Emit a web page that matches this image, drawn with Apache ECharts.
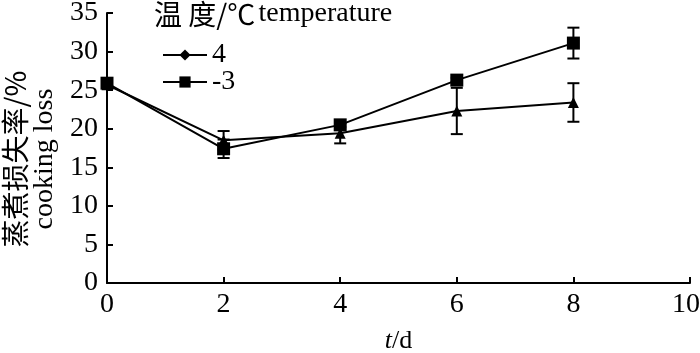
<!DOCTYPE html>
<html>
<head>
<meta charset="utf-8">
<script src="https://cdn.jsdelivr.net/npm/echarts@6/dist/echarts.min.js"></script>
<style>
  html, body { margin: 0; padding: 0; background: #fff; }
  #chart { width: 700px; height: 353px; }
</style>
</head>
<body>
<div id="chart"></div>
<script>
// storage time (d)
const days = [0, 2, 4, 6, 8];
// cooking loss (%) at 4 °C and -3 °C
const loss4 = [25.7, 18.5, 19.4, 22.3, 23.4];
const err4 = [0.3, 1.2, 1.3, 3.0, 2.5];
const lossM3 = [25.9, 17.4, 20.5, 26.3, 31.1];
const errM3 = [0.3, 1.2, 0.3, 0.3, 2.0];
const xTicks = ['0', '2', '4', '6', '8', '10'];
const yTicks = ['0', '5', '10', '15', '20', '25', '30', '35'];

const serif = '"Liberation Serif", "Times New Roman", serif';
const cjk = '"Noto Sans CJK SC", sans-serif';

function errData(vals, errs) {
  return days.map((d, i) => [d, vals[i] - errs[i], vals[i] + errs[i]]);
}

function errorBar(params, api) {
  const x = api.value(0);
  const lo = api.coord([x, api.value(1)]);
  const hi = api.coord([x, api.value(2)]);
  const w = 6;
  const style = { stroke: '#000', lineWidth: 2, fill: null };
  return {
    type: 'group',
    children: [
      { type: 'line', shape: { x1: lo[0], y1: lo[1], x2: hi[0], y2: hi[1] }, style },
      { type: 'line', shape: { x1: lo[0] - w, y1: lo[1], x2: lo[0] + w, y2: lo[1] }, style },
      { type: 'line', shape: { x1: hi[0] - w, y1: hi[1], x2: hi[0] + w, y2: hi[1] }, style }
    ]
  };
}

const legendBase = {
  orient: 'vertical',
  left: 157,
  itemWidth: 44,
  itemHeight: 14,
  textStyle: { fontFamily: serif, fontSize: 28, color: '#000' }
};

const chart = echarts.init(document.getElementById('chart'));
chart.setOption({
  animation: false,
  backgroundColor: '#fff',
  grid: { left: 107, right: 10, top: 13, bottom: 70, outerBoundsMode: 'none', containLabel: false },
  graphic: [{
    type: 'text',
    left: 154,
    top: 0,
    style: {
      text: '{c|温 度/℃} {e|temperature}',
      rich: {
        c: { fontFamily: cjk, fontSize: 28, fill: '#000' },
        e: { fontFamily: serif, fontSize: 28, fill: '#000' }
      }
    }
  }],
  legend: [
    Object.assign({}, legendBase, { top: 36, data: ['4'] }),
    Object.assign({}, legendBase, { top: 63, data: ['-3'] })
  ],
  xAxis: {
    type: 'value',
    min: 0,
    max: 10,
    interval: 2,
    name: '{i|t}/d',
    nameLocation: 'middle',
    nameGap: 45,
    nameTextStyle: {
      fontFamily: serif, fontSize: 26, color: '#000',
      rich: { i: { fontFamily: serif, fontSize: 26, fontStyle: 'italic', color: '#000' } }
    },
    axisLine: { lineStyle: { color: '#000', width: 2 } },
    axisTick: { inside: true, length: 6, lineStyle: { color: '#000', width: 2 } },
    axisLabel: {
      fontFamily: serif, fontSize: 28, color: '#000', margin: 8,
      formatter: v => (v === 10 ? '{r|' + xTicks[v / 2] + '}' : xTicks[v / 2]),
      rich: { r: { fontFamily: serif, fontSize: 28, color: '#000', padding: [0, 8, 0, 0] } }
    },
    splitLine: { show: false }
  },
  yAxis: {
    type: 'value',
    min: 0,
    max: 35,
    interval: 5,
    name: '{c|蒸煮损失率/%}\n{e|cooking loss}',
    nameLocation: 'middle',
    nameRotate: 90,
    nameGap: 47,
    nameTextStyle: {
      color: '#000',
      padding: [0, 22, 0, 0],
      rich: {
        c: { fontFamily: cjk, fontSize: 28, color: '#000', lineHeight: 30 },
        e: { fontFamily: serif, fontSize: 28, color: '#000', lineHeight: 30 }
      }
    },
    axisLine: { show: true, lineStyle: { color: '#000', width: 2 } },
    axisTick: { show: true, inside: true, length: 6, lineStyle: { color: '#000', width: 2 } },
    axisLabel: {
      fontFamily: serif, fontSize: 28, color: '#000', margin: 9,
      formatter: v => yTicks[v / 5]
    },
    splitLine: { show: false }
  },
  series: [
    {
      name: '4',
      type: 'line',
      symbol: 'diamond',
      symbolSize: 14,
      data: days.map((d, i) => ({ value: [d, loss4[i]], symbol: 'triangle', symbolSize: 11 })),
      lineStyle: { color: '#000', width: 2 },
      itemStyle: { color: '#000' },
      z: 3
    },
    {
      name: '-3',
      type: 'line',
      symbol: 'rect',
      symbolSize: 13,
      data: days.map((d, i) => [d, lossM3[i]]),
      lineStyle: { color: '#000', width: 2 },
      itemStyle: { color: '#000' },
      z: 3
    },
    {
      type: 'custom',
      renderItem: errorBar,
      data: errData(loss4, err4),
      encode: { x: 0, y: [1, 2] },
      z: 2
    },
    {
      type: 'custom',
      renderItem: errorBar,
      data: errData(lossM3, errM3),
      encode: { x: 0, y: [1, 2] },
      z: 2
    }
  ]
});
</script>
</body>
</html>
